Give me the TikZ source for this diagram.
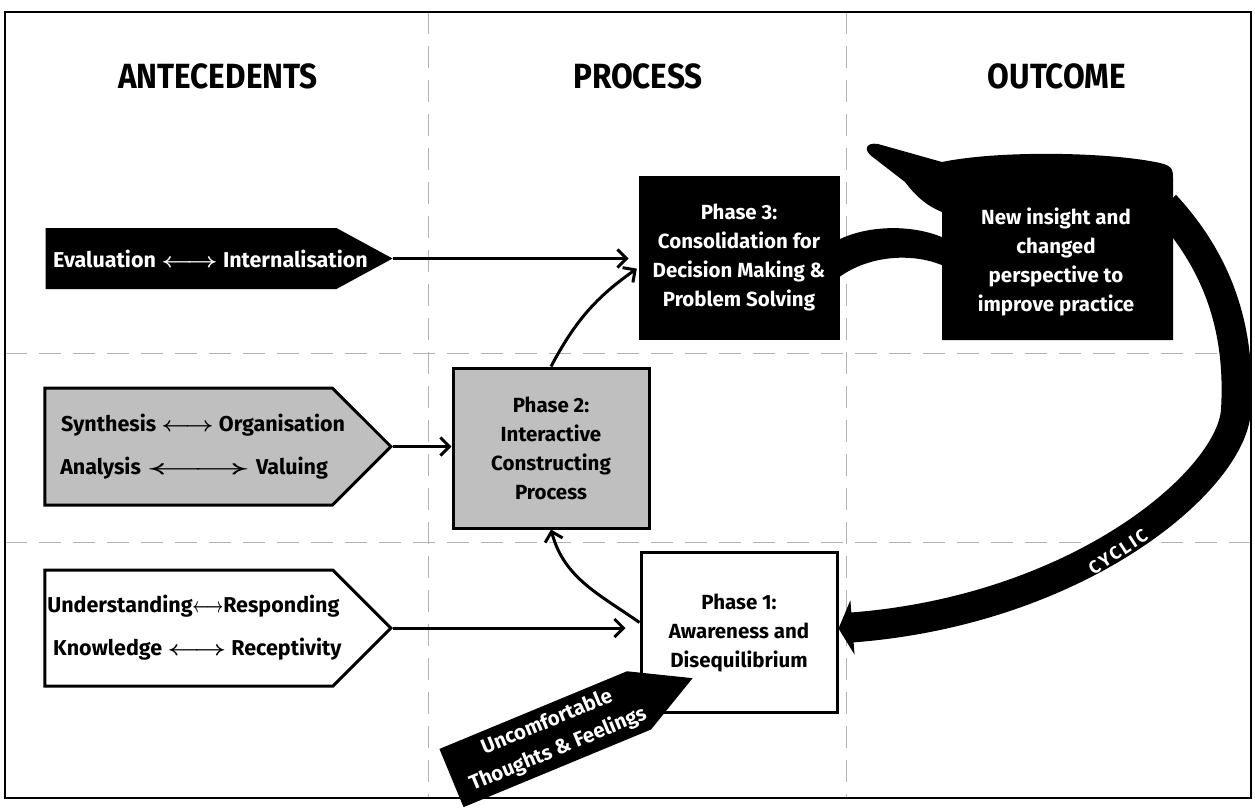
\documentclass[tikz,border=0pt]{standalone}
\usepackage{fontspec}
\usepackage{graphicx}
\setmainfont{Fira Sans}
\newfontfamily\headfont{Fira Sans}[FakeStretch=0.9]
\newfontfamily\spacedfont{Fira Sans}[LetterSpace=12]
\usetikzlibrary{arrows.meta, shapes.symbols}

% thin two-way arrow stretched to a given factor
\newcommand{\twoway}[1]{\scalebox{#1}[1]{\boldmath$\longleftrightarrow$}}
% one row of text, nudged right by half of #1, taking no width
\newcommand{\fitrow}[2]{\makebox[0pt]{\hspace*{#1}#2}}

\tikzset{
  heading/.style={font=\headfont\bfseries\fontsize{35}{38}\selectfont},
  bodytext/.style={font=\bfseries\fontsize{20.5}{29}\selectfont, align=center},
  antebox/.style={signal, signal to=east, inner sep=0pt, anchor=east,
    font=\bfseries\fontsize{21.5}{29}\selectfont, align=center},
  phasebox/.style={rectangle, draw=black, line width=3pt, inner sep=0pt,
    minimum width=196pt, minimum height=160pt, bodytext},
  link/.style={line width=3pt, -{Straight Barb[length=9pt, width=18pt]}},
  gridline/.style={gray!60, line width=1pt, dash pattern=on 22pt off 12pt},
}

\begin{document}
\begin{tikzpicture}[x=1pt, y=1pt]
    \useasboundingbox (0,0) rectangle (1255,-807);

    % Dashed lines between the nine cells
    \draw[gridline] (428,-12) -- (428,-798);
    \draw[gridline] (846,-12) -- (846,-798);
    \draw[gridline] (5,-353) -- (1251,-353);
    \draw[gridline] (5,-542) -- (1251,-542);

    % Outer frame
    \draw[line width=2.5pt] (5,-12) rectangle (1251,-798);

    % Column headings
    \node[heading] (antehead) at (218,-76) {ANTECEDENTS};
    \node[heading] (prochead) at (638,-76) {PROCESS};
    \node[heading] (outhead) at (1057,-76) {OUTCOME};

    % Antecedent arrows on the left (placed by their tips)
    \node[antebox, fill=black, text=white, minimum width=347pt, minimum height=61pt,
          signal pointer angle=57] (eval) at (393,-258.5)
          {\fitrow{39pt}{Evaluation \twoway{1.3} Internalisation}};
    \node[antebox, draw, line width=3pt, fill=gray!50, minimum width=346pt, minimum height=117pt,
          signal pointer angle=90] (synth) at (393,-446.5)
          {\fitrow{29pt}{Synthesis \twoway{1.2} Organisation}\\[14pt]
           \fitrow{11pt}{Analysis \twoway{2.4} Valuing}};
    \node[antebox, draw, line width=3pt, fill=white, minimum width=346pt, minimum height=116pt,
          signal pointer angle=90] (under) at (393,-628)
          {\fitrow{9pt}{Understanding\twoway{0.7}Responding}\\[14pt]
           \fitrow{17pt}{Knowledge \twoway{1.35} Receptivity}};

    % The three phases
    \node[phasebox, fill=black, text=white, minimum width=198pt, minimum height=161pt] (p3) at (739,-257.5)
          {Phase 3:\\Consolidation for\\Decision Making \&\\Problem Solving};
    \node[phasebox, fill=gray!50] (p2) at (551,-448)
          {Phase 2:\\Interactive\\Constructing\\Process};
    \node[phasebox, fill=white] (p1) at (739,-632.5)
          {Phase 1:\\Awareness and\\Disequilibrium};

    % Arrows into the phases
    \draw[link, shorten >=10pt] (eval.east) -- (eval.east -| p3.west);
    \draw[link] (synth.east) -- (synth.east -| p2.west);
    \draw[link, shorten >=14pt] (under.east) -- (under.east -| p1.west);
    \draw[link, shorten >=2pt] (p2.north) to[out=62, in=215] ([yshift=-10pt]p3.west);
    \draw[link] ([yshift=10pt]p1.west) to[out=145, in=-75] (p2.south);

    % Uncomfortable thoughts pushing into phase 1
    \node[antebox, fill=black, text=white, rotate=22.5, minimum width=261pt, minimum height=63pt,
          signal pointer angle=57, font=\bfseries\fontsize{20.5}{29}\selectfont] (uncomf) at (693,-678)
          {\fitrow{16pt}{Uncomfortable}\\\fitrow{16pt}{Thoughts \& Feelings}};

    % Teapot for the outcome
    \fill (838,-240) .. controls (870,-224) and (915,-225) .. (944,-238)
          -- (944,-266) .. controls (915,-253) and (870,-254) .. (838,-278) -- cycle;
    \fill (942,-340) -- (942,-212) .. controls (925,-205) and (915,-195) .. (905,-182)
          -- (874,-158) .. controls (862,-150) and (866,-142) .. (878,-144)
          -- (942,-162) .. controls (1000,-150) and (1110,-152) .. (1160,-163)
          .. controls (1173,-166) and (1173,-170) .. (1173,-180) -- (1173,-340) -- cycle;

    % Cyclic arrow back to phase 1
    \coordinate (cycstart) at (1165,-205);
    \draw[line width=30pt, -{Triangle[length=14pt, width=54pt]}] (cycstart)
          .. controls (1225,-270) and (1240,-340) .. (1236,-410)
          .. controls (1232,-480) and (1080,-610) .. ([yshift=4pt]p1.east);

    \node[bodytext, text=white] (outcome) at (1056,-262)
          {New insight and\\changed\\perspective to\\improve practice};
    \node[font=\spacedfont\bfseries\fontsize{18}{20}\selectfont, text=white, rotate=33] (cyclic)
          at (1118,-552) {CYCLIC};

\end{tikzpicture}
\end{document}
